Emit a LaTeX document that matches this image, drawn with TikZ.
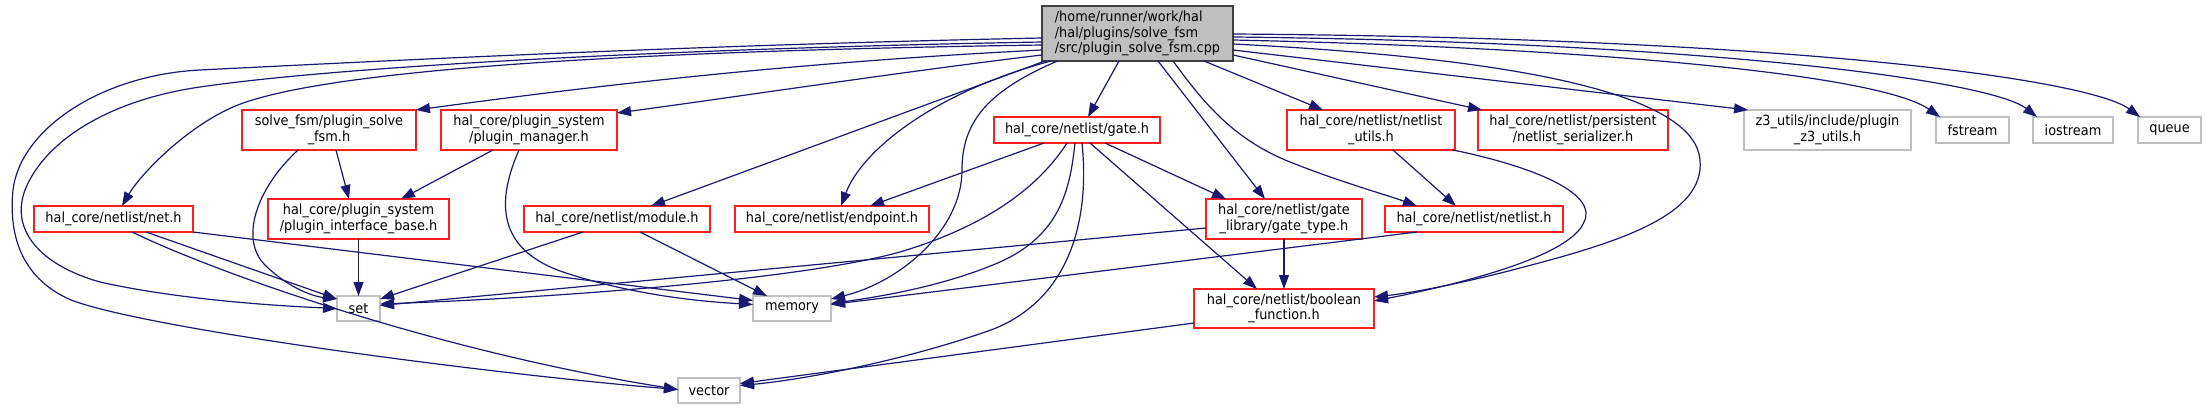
\documentclass[tikz,border=0pt]{standalone}
\usepackage{fontspec}
\setmainfont{DejaVu Sans}[FakeStretch=0.92]
\usetikzlibrary{arrows.meta,calc}
\definecolor{edgeblue}{RGB}{25,25,112}
\definecolor{leafgray}{RGB}{191,191,191}
\definecolor{maingray}{RGB}{191,191,191}
\definecolor{hdrred}{RGB}{255,30,30}
\begin{document}
\begin{tikzpicture}[x=1pt,y=-1pt,
  every node/.style={font=\fontsize{14}{15.5}\selectfont, inner sep=0pt, outer sep=0pt},
  hdr/.style={draw=hdrred, line width=1.3pt, fill=white, align=center},
  leaf/.style={draw=leafgray, line width=1.3pt, fill=white, align=center},
  root/.style={draw=black!75, line width=1.3pt, fill=maingray, align=left},
  edge/.style={draw=edgeblue, line width=1.2pt, -{Triangle[length=14pt,width=10pt]}}
]
\useasboundingbox[fill=white] (0,0) rectangle (2206,409);

% nodes
\node[root, minimum width=191pt, minimum height=55pt] (main) at (1137.5,33.5) {/home/runner/work/hal\\/hal/plugins/solve\_fsm\\/src/plugin\_solve\_fsm.cpp};
\node[hdr, minimum width=174pt, minimum height=40pt] (sfsm) at (329,130) {solve\_fsm/plugin\_solve\\\_fsm.h};
\node[hdr, minimum width=176pt, minimum height=40pt] (pman) at (529,130) {hal\_core/plugin\_system\\/plugin\_manager.h};
\node[hdr, minimum width=166pt, minimum height=26pt] (gate) at (1077,130) {hal\_core/netlist/gate.h};
\node[hdr, minimum width=168pt, minimum height=40pt] (nutils) at (1371,130) {hal\_core/netlist/netlist\\\_utils.h};
\node[hdr, minimum width=190pt, minimum height=40pt] (nser) at (1573,130) {hal\_core/netlist/persistent\\/netlist\_serializer.h};
\node[leaf, minimum width=167pt, minimum height=40pt] (z3) at (1827.5,130) {z3\_utils/include/plugin\\\_z3\_utils.h};
\node[leaf, minimum width=73pt, minimum height=26pt] (fstream) at (1972.5,130) {fstream};
\node[leaf, minimum width=80pt, minimum height=26pt] (iostream) at (2073,130) {iostream};
\node[leaf, minimum width=63pt, minimum height=26pt] (queue) at (2169.5,130) {queue};
\node[hdr, minimum width=159pt, minimum height=26pt] (net) at (113.5,219) {hal\_core/netlist/net.h};
\node[hdr, minimum width=181pt, minimum height=40pt] (pib) at (358.5,219) {hal\_core/plugin\_system\\/plugin\_interface\_base.h};
\node[hdr, minimum width=186pt, minimum height=26pt] (module) at (617,219) {hal\_core/netlist/module.h};
\node[hdr, minimum width=194pt, minimum height=26pt] (endpoint) at (832,219) {hal\_core/netlist/endpoint.h};
\node[hdr, minimum width=156pt, minimum height=40pt] (gatetype) at (1284,219) {hal\_core/netlist/gate\\\_library/gate\_type.h};
\node[hdr, minimum width=178pt, minimum height=26pt] (netlist) at (1474,219) {hal\_core/netlist/netlist.h};
\node[leaf, minimum width=43pt, minimum height=25pt] (set) at (358.5,308.5) {set};
\node[leaf, minimum width=78pt, minimum height=25pt] (memory) at (792,308.5) {memory};
\node[hdr, minimum width=180pt, minimum height=39pt] (boolfn) at (1284,308.5) {hal\_core/netlist/boolean\\\_function.h};
\node[leaf, minimum width=62pt, minimum height=25pt] (vector) at (709,390.5) {vector};

% edges from main
\draw[edge] ($(main.west)+(0,4.5)$) .. controls (700,45) and (400,60) .. (200,70) .. controls (100,75) and (20,130) .. (13,190) .. controls (8,240) and (25,280) .. (71,300) .. controls (150,330) and (500,375) .. ($(vector.west)+(0,-1)$);
\draw[edge] ($(main.west)+(0,8.5)$) .. controls (700,48) and (350,65) .. (200,87) .. controls (110,100) and (45,140) .. (25,190) .. controls (10,230) and (40,265) .. (100,282) .. controls (180,300) and (280,306) .. (set.west);
\draw[edge] ($(main.west)+(0,11.5)$) .. controls (700,50) and (330,65) .. (233,107) .. controls (185,128) and (140,175) .. ($(net.north)+(8.5,0)$);
\draw[edge] ($(main.west)+(0,16.5)$) .. controls (800,62) and (600,85) .. (sfsm.north east);
\draw[edge] ($(main.west)+(0,21.5)$) .. controls (900,72) and (750,95) .. ($(pman.north east)+(0,3)$);
\draw[edge] ($(main.south west)+(3,0)$) -- ($(module.north)+(34,0)$);
\draw[edge] ($(main.south)+(-86.5,0)$) .. controls (935,92) and (862,150) .. ($(endpoint.north)+(9,0)$);
\draw[edge] ($(main.south)+(-80,0)$) .. controls (990,90) and (962,120) .. (962,170) .. controls (962,230) and (900,282) .. ($(memory.east)+(0,-9.5)$);
\draw[edge] ($(main.south)+(-18.5,0)$) -- ($(gate.north)+(11,0)$);
\draw[edge] ($(main.south)+(20.5,0)$) -- ($(gatetype.north)+(-19,0)$);
\draw[edge] ($(main.south)+(35.5,0)$) .. controls (1205,105) and (1235,140) .. (1290,162) .. controls (1340,182) and (1390,196) .. ($(netlist.north)+(-57,0)$);
\draw[edge] ($(main.south)+(66.5,0)$) -- ($(nutils.north)+(-48,0)$);
\draw[edge] ($(main.east)+(0,21.5)$) -- ($(nser.north west)+(4,0)$);
\draw[edge] ($(main.east)+(0,16.5)$) -- ($(z3.north west)+(4,0)$);
\draw[edge] ($(main.east)+(0,10.5)$) .. controls (1550,60) and (1695,100) .. (1700,160) .. controls (1705,215) and (1620,242) .. (1520,268) .. controls (1460,284) and (1410,293) .. ($(boolfn.east)+(0,-11.5)$);
\draw[edge] ($(main.east)+(0,6.5)$) .. controls (1600,48) and (1880,75) .. ($(fstream.north)+(-32.5,0)$);
\draw[edge] ($(main.east)+(0,3.5)$) .. controls (1700,42) and (1990,80) .. ($(iostream.north)+(-36,0)$);
\draw[edge] ($(main.east)+(0,0.5)$) .. controls (1800,38) and (2090,80) .. ($(queue.north)+(-29.5,0)$);

% other edges
\draw[edge] ($(sfsm.south)+(7,0)$) -- ($(pib.north)+(-9.5,0)$);
\draw[edge] ($(sfsm.south)+(-31,0)$) .. controls (255,190) and (240,240) .. (265,265) .. controls (285,285) and (310,296) .. ($(set.north west)+(0,3)$);
\draw[edge] ($(pman.south)+(-36,0)$) -- ($(pib.north)+(42.5,0)$);
\draw[edge] ($(pman.south)+(-10,0)$) .. controls (497,200) and (495,250) .. (566,273) .. controls (640,297) and (710,302) .. ($(memory.west)+(0,-4)$);
\draw[edge] ($(net.south)+(32.5,0)$) -- ($(set.north west)+(0,3)$);
\draw[edge] (net.south east) -- ($(memory.west)+(0,-8)$);
\draw[edge] ($(net.south)+(18.5,0)$) .. controls (210,270) and (430,350) .. ($(vector.west)+(0,-1)$);
\draw[edge] (pib.south) -- (set.north);
\draw[edge] ($(module.south)+(-34,0)$) -- ($(set.north east)+(0,3)$);
\draw[edge] ($(module.south)+(23,0)$) -- ($(memory.north west)+(14,0)$);
\draw[edge] ($(gate.south)+(-33,0)$) -- ($(endpoint.north)+(38,0)$);
\draw[edge] ($(gate.south)+(-10,0)$) .. controls (1040,185) and (990,225) .. (900,252) .. controls (800,280) and (550,298) .. ($(set.east)+(0,-4.5)$);
\draw[edge] ($(gate.south)+(-2,0)$) .. controls (1070,190) and (1060,235) .. (1000,262) .. controls (940,288) and (870,298) .. ($(memory.east)+(0,-5)$);
\draw[edge] ($(gate.south)+(5,0)$) .. controls (1090,220) and (1070,300) .. (991,330) .. controls (900,362) and (800,380) .. ($(vector.east)+(0,-5)$);
\draw[edge] ($(gate.south)+(13,0)$) -- ($(boolfn.north)+(-27,0)$);
\draw[edge] ($(gate.south)+(28,0)$) -- ($(gatetype.north)+(-58,0)$);
\draw[edge] ($(gatetype.west)+(0,9)$) -- ($(set.east)+(0,-3)$);
\draw[edge] (gatetype.south) -- (boolfn.north);
\draw[edge] ($(netlist.south)+(-57,0)$) -- ($(memory.east)+(0,-4)$);
\draw[edge] ($(nutils.south)+(22,0)$) -- ($(netlist.north)+(-18,0)$);
\draw[edge] ($(nutils.south east)+(-2,0)$) .. controls (1540,168) and (1598,195) .. (1584,222) .. controls (1570,258) and (1450,286) .. ($(boolfn.east)+(0,-7.5)$);
\draw[edge] ($(boolfn.west)+(0,14.5)$) -- ($(vector.east)+(0,-7)$);
\end{tikzpicture}
\end{document}
